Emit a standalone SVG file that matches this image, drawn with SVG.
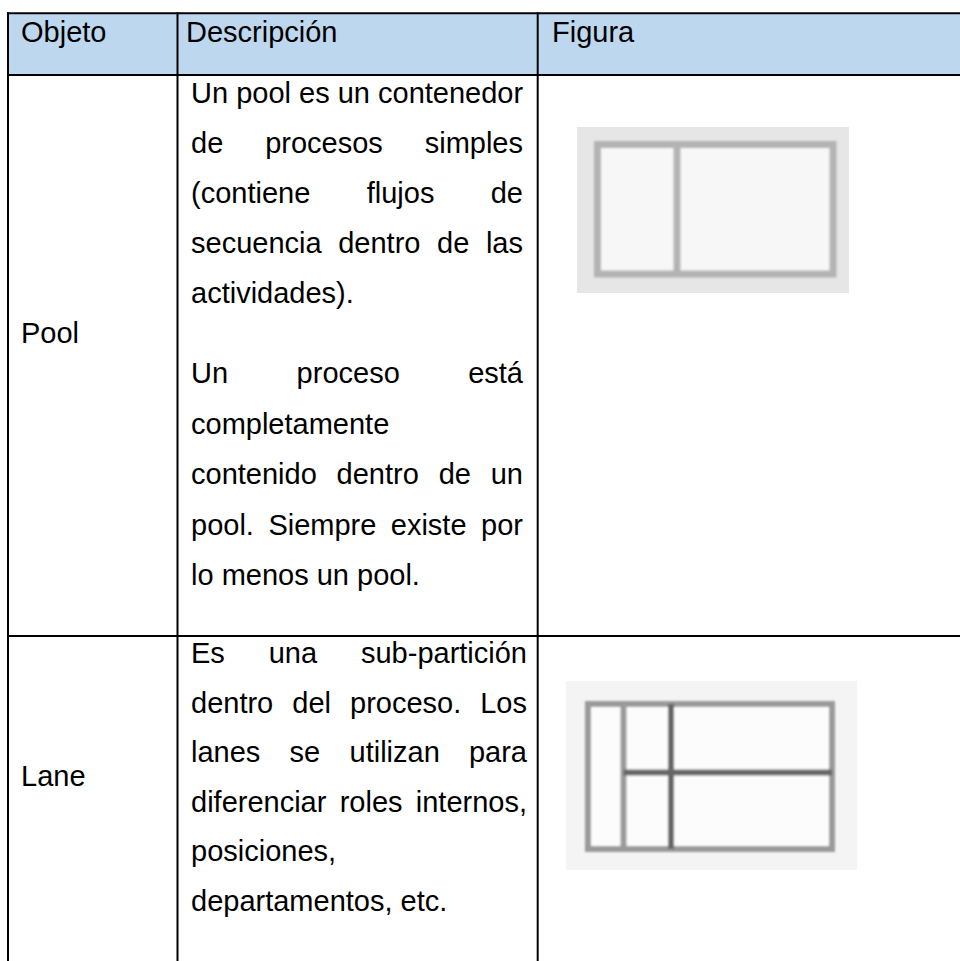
<svg xmlns="http://www.w3.org/2000/svg" width="960" height="961" viewBox="0 0 960 961">
  <style>
    text { font-family: "Liberation Sans", Arial, sans-serif; font-size: 29px; fill: #000; }
    .grid line { stroke: #000; stroke-width: 2; }
    .lt { stroke: #9a9a9a; stroke-width: 6; fill: none; }
    .dk { stroke: #666; stroke-width: 6; fill: none; }
    .pf { stroke: #b3b3b3; stroke-width: 7; fill: none; }
  </style>
  <defs>
    <filter id="soft" x="-5%" y="-5%" width="110%" height="110%">
      <feGaussianBlur stdDeviation="1.2"/>
    </filter>
  </defs>
  <rect x="0" y="0" width="960" height="961" fill="#fff"/>

  <g id="header">
    <rect x="8" y="13" width="952" height="62" fill="#bdd7ee"/>
    <text x="21" y="42">Objeto</text>
    <text x="186" y="42">Descripción</text>
    <text x="552" y="42">Figura</text>
  </g>

  <g id="pool-row">
    <text x="21" y="343">Pool</text>
    <g id="pool-desc">
      <text x="191" y="103">Un pool es un contenedor</text>
      <text y="153"><tspan x="191">de</tspan><tspan x="265.2">procesos</tspan><tspan x="523" text-anchor="end">simples</tspan></text>
      <text y="203"><tspan x="191">(contiene</tspan><tspan x="366.7">flujos</tspan><tspan x="523" text-anchor="end">de</tspan></text>
      <text y="253"><tspan x="191">secuencia</tspan><tspan x="338.2">dentro</tspan><tspan x="437.1">de</tspan><tspan x="523" text-anchor="end">las</tspan></text>
      <text x="191" y="303">actividades).</text>
      <text y="383"><tspan x="191">Un</tspan><tspan x="296.6">proceso</tspan><tspan x="523" text-anchor="end">está</tspan></text>
      <text x="191" y="433.5">completamente</text>
      <text y="484"><tspan x="191">contenido</tspan><tspan x="336.6">dentro</tspan><tspan x="438.7">de</tspan><tspan x="523" text-anchor="end">un</tspan></text>
      <text y="534.5"><tspan x="191">pool.</tspan><tspan x="268.4">Siempre</tspan><tspan x="390.8">existe</tspan><tspan x="523" text-anchor="end">por</tspan></text>
      <text x="191" y="585">lo menos un pool.</text>
    </g>
    <g id="pool-figure">
      <rect x="577" y="127" width="272" height="166" fill="#e6e6e6"/>
      <g filter="url(#soft)">
        <rect x="597.5" y="144.5" width="235.5" height="129.5" fill="#f7f7f7"/>
        <rect class="pf" x="597.5" y="144.5" width="235.5" height="129.5"/>
        <line class="pf" x1="677" y1="144.5" x2="677" y2="274"/>
      </g>
    </g>
  </g>

  <g id="lane-row">
    <text x="21" y="786">Lane</text>
    <g id="lane-desc">
      <text y="663"><tspan x="191">Es</tspan><tspan x="268.7">una</tspan><tspan x="527" text-anchor="end">sub-partición</tspan></text>
      <text y="712.5"><tspan x="191">dentro</tspan><tspan x="292.3">del</tspan><tspan x="350">proceso.</tspan><tspan x="527" text-anchor="end">Los</tspan></text>
      <text y="762"><tspan x="191">lanes</tspan><tspan x="289.6">se</tspan><tspan x="349.5">utilizan</tspan><tspan x="527" text-anchor="end">para</tspan></text>
      <text y="811.5"><tspan x="191">diferenciar</tspan><tspan x="339.7">roles</tspan><tspan x="527" text-anchor="end">internos,</tspan></text>
      <text x="191" y="861">posiciones,</text>
      <text x="191" y="910.5">departamentos, etc.</text>
    </g>
    <g id="lane-figure">
      <rect x="566" y="681" width="291" height="189" fill="#f4f4f4"/>
      <g filter="url(#soft)">
        <rect x="588" y="704" width="244" height="145" fill="#fcfcfc"/>
        <rect class="lt" x="588" y="704" width="244" height="145"/>
        <line class="lt" x1="623.5" y1="704" x2="623.5" y2="849"/>
        <line class="dk" x1="623.5" y1="772.5" x2="832" y2="772.5"/>
        <line class="dk" x1="671" y1="704" x2="671" y2="849"/>
      </g>
    </g>
  </g>

  <g id="connectors" class="grid">
    <line x1="7" y1="13.3" x2="960" y2="13.3"/>
    <line x1="7" y1="75" x2="960" y2="75"/>
    <line x1="7" y1="636" x2="960" y2="636"/>
    <line x1="8" y1="12.3" x2="8" y2="961"/>
    <line x1="177.5" y1="12.3" x2="177.5" y2="961"/>
    <line x1="537.7" y1="12.3" x2="537.7" y2="961"/>
  </g>
</svg>
